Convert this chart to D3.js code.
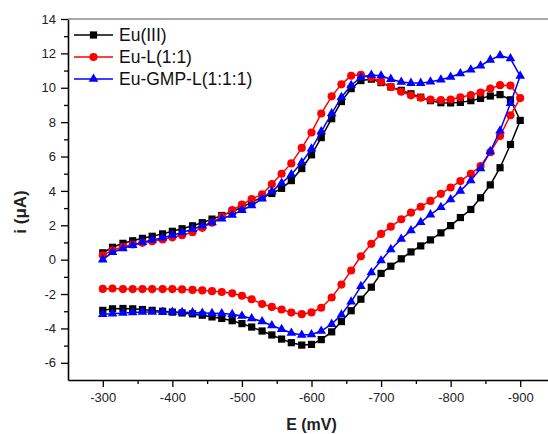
<!DOCTYPE html>
<html>
<head>
<meta charset="utf-8">
<script src="https://cdn.jsdelivr.net/npm/d3@7"></script>
<style>
  body { margin: 0; background: #fff; }
  svg { display: block; font-family: "Liberation Sans", Arial, sans-serif; }
</style>
</head>
<body>
<div id="wrapper"></div>
<script>
// forward scan potentials (mV); the reverse scan runs back over the same values
const potential = [
  -300, -314, -329, -343, -357, -371, -386, -400, -414, -429, -443, -457, -471, -486, -500,
  -514, -529, -543, -557, -571, -586, -600, -614, -629, -643, -657, -671, -686, -700, -714,
  -729, -743, -757, -771, -786, -800, -814, -829, -843, -857, -871, -886, -900,
]

// Eu(III)
const euForward = [
  0.4, 0.72, 0.95, 1.1, 1.24, 1.36, 1.5, 1.65, 1.8, 1.97, 2.15, 2.36, 2.57, 2.8, 3.05,
  3.35, 3.62, 3.85, 4.15, 4.6, 5.3, 6.1, 7.1, 8.2, 9.2, 9.95, 10.42, 10.5, 10.3, 10.05,
  9.85, 9.65, 9.45, 9.25, 9.13, 9.12, 9.15, 9.25, 9.38, 9.52, 9.6, 9.3, 8.1,
]
const euReverse = [
  6.7, 5.35, 4.35, 3.6, 2.92, 2.45, 1.98, 1.56, 1.15, 0.8, 0.45, 0.05, -0.38, -0.8,
  -1.6, -2.3, -2.97, -3.6, -4.2, -4.65, -4.93, -4.97, -4.83, -4.62, -4.38, -4.15, -3.92, -3.72,
  -3.55, -3.42, -3.33, -3.23, -3.15, -3.1, -3.05, -3.0, -2.95, -2.9, -2.86, -2.84, -2.86, -2.95,
]

// Eu-L(1:1)
const euLForward = [
  0.25, 0.55, 0.75, 0.88, 0.98, 1.07, 1.18, 1.3, 1.42, 1.6, 1.85, 2.15, 2.5, 2.88, 3.2,
  3.53, 3.8, 4.4, 5.0, 5.6, 6.5, 7.4, 8.5, 9.5, 10.2, 10.7, 10.75, 10.6, 10.35, 10.05,
  9.77, 9.56, 9.42, 9.31, 9.28, 9.32, 9.45, 9.58, 9.72, 9.95, 10.15, 10.13, 9.4,
]
const euLReverse = [
  8.4, 7.2, 6.25, 5.45, 5.0, 4.57, 4.2, 3.83, 3.42, 3.08, 2.74, 2.35, 1.92, 1.5,
  0.92, 0.2, -0.63, -1.45, -2.2, -2.8, -3.07, -3.17, -3.08, -2.9, -2.75, -2.58, -2.3, -2.1,
  -1.96, -1.88, -1.83, -1.79, -1.76, -1.73, -1.71, -1.71, -1.71, -1.71, -1.71, -1.71, -1.68, -1.7,
]

// Eu-GMP-L(1:1:1)
const euGmpForward = [
  0.0, 0.43, 0.65, 0.84, 1.02, 1.15, 1.28, 1.42, 1.58, 1.77, 1.97, 2.17, 2.38, 2.6, 2.88,
  3.15, 3.55, 3.97, 4.45, 4.95, 5.65, 6.45, 7.45, 8.5, 9.45, 10.15, 10.6, 10.74, 10.7, 10.5,
  10.33, 10.27, 10.27, 10.35, 10.47, 10.63, 10.83, 11.05, 11.28, 11.62, 11.88, 11.7, 10.68,
]
const euGmpReverse = [
  9.1, 7.5, 6.3, 5.3, 4.6, 4.0, 3.5, 3.05, 2.62, 2.18, 1.7, 1.2, 0.6, -0.05,
  -0.75, -1.55, -2.45, -3.2, -3.75, -4.15, -4.35, -4.38, -4.27, -4.05, -3.83, -3.6, -3.42, -3.28,
  -3.18, -3.13, -3.12, -3.1, -3.08, -3.06, -3.05, -3.05, -3.05, -3.05, -3.07, -3.1, -3.14, -3.18,
]

const seriesNames = ["Eu(III)", "Eu-L(1:1)", "Eu-GMP-L(1:1:1)"]
const seriesColors = ["#000000", "#ff0000", "#0000ff"]

const xTicks = [-300, -400, -500, -600, -700, -800, -900]
const xMinorTicks = [-350, -450, -550, -650, -750, -850]
const yTicks = [-6, -4, -2, 0, 2, 4, 6, 8, 10, 12, 14]
const yMinorTicks = [-5, -3, -1, 1, 3, 5, 7, 9, 11, 13]

const drawChart = () => {
  // 1) Accessors
  const xAccessor = (d) => d.e
  const yAccessor = (d) => d.i

  const reversePotential = potential.slice(0, -1).reverse()
  const buildLoop = (forward, reverse) => [
    ...potential.map((e, idx) => ({ e, i: forward[idx] })),
    ...reversePotential.map((e, idx) => ({ e, i: reverse[idx] })),
  ]

  const series = [
    { name: seriesNames[0], color: seriesColors[0], symbol: d3.symbolSquare, size: 52, values: buildLoop(euForward, euReverse) },
    { name: seriesNames[1], color: seriesColors[1], symbol: d3.symbolCircle, size: 52, values: buildLoop(euLForward, euLReverse) },
    { name: seriesNames[2], color: seriesColors[2], symbol: d3.symbolTriangle, size: 40, values: buildLoop(euGmpForward, euGmpReverse) },
  ]

  // 2) Dimensions
  const dimensions = {
    width: 548,
    height: 434,
    margin: { top: 19, right: -7, bottom: 54, left: 68 },
  }
  dimensions.boundedWidth =
    dimensions.width - dimensions.margin.left - dimensions.margin.right
  dimensions.boundedHeight =
    dimensions.height - dimensions.margin.top - dimensions.margin.bottom

  // 3) Canvas
  const wrapper = d3
    .select("#wrapper")
    .append("svg")
    .attr("width", dimensions.width)
    .attr("height", dimensions.height)

  const bounds = wrapper
    .append("g")
    .attr("transform", `translate(${dimensions.margin.left}, ${dimensions.margin.top})`)

  // 4) Scales
  const xScale = d3
    .scaleLinear()
    .domain([-250, -950])
    .range([0, dimensions.boundedWidth])

  const yScale = d3
    .scaleLinear()
    .domain([-7, 14])
    .range([dimensions.boundedHeight, 0])

  // 5) Data
  const lineGenerator = d3
    .line()
    .x((d) => xScale(xAccessor(d)))
    .y((d) => yScale(yAccessor(d)))

  series.forEach((s) => {
    const group = bounds.append("g")
    group
      .append("path")
      .attr("d", lineGenerator(s.values))
      .attr("fill", "none")
      .attr("stroke", s.color)
      .attr("stroke-width", 1.5)

    const symbol = d3.symbol(s.symbol, s.size)
    group
      .selectAll("path.marker")
      .data(s.values)
      .join("path")
      .attr("class", "marker")
      .attr("d", symbol)
      .attr("fill", s.color)
      .attr(
        "transform",
        (d) => `translate(${xScale(xAccessor(d))}, ${yScale(yAccessor(d))})`
      )
  })

  // 6) Peripherals
  const plainNumber = (d) => String(d)

  bounds
    .append("g")
    .attr("transform", `translate(0, ${dimensions.boundedHeight})`)
    .call(
      d3.axisBottom(xScale).tickValues(xTicks).tickSize(7).tickSizeOuter(0).tickPadding(6).tickFormat(plainNumber)
    )
  bounds
    .append("g")
    .attr("transform", `translate(0, ${dimensions.boundedHeight})`)
    .call(
      d3.axisBottom(xScale).tickValues(xMinorTicks).tickSize(4).tickSizeOuter(0).tickFormat("")
    )
    .select(".domain")
    .remove()

  bounds
    .append("g")
    .call(
      d3.axisLeft(yScale).tickValues(yTicks).tickSize(7).tickSizeOuter(0).tickPadding(5).tickFormat(plainNumber)
    )
  bounds
    .append("g")
    .call(
      d3.axisLeft(yScale).tickValues(yMinorTicks).tickSize(4).tickSizeOuter(0).tickFormat("")
    )
    .select(".domain")
    .remove()

  bounds.selectAll(".domain").attr("stroke", "#000").attr("stroke-width", 1.6)
  bounds.selectAll(".tick line").attr("stroke", "#000").attr("stroke-width", 1.3)
  bounds
    .selectAll(".tick text")
    .attr("fill", "#222")
    .style("font-size", "13px")
    .style("font-family", '"Liberation Sans", Arial, sans-serif')

  // top frame
  bounds
    .append("line")
    .attr("x1", 0)
    .attr("x2", dimensions.boundedWidth)
    .attr("y1", 0)
    .attr("y2", 0)
    .attr("stroke", "#555")
    .attr("stroke-width", 1.2)

  wrapper
    .append("text")
    .attr("x", dimensions.margin.left + dimensions.boundedWidth / 2)
    .attr("y", 430)
    .attr("text-anchor", "middle")
    .style("font-size", "16px")
    .style("font-weight", "bold")
    .attr("fill", "#222")
    .text("E (mV)")

  wrapper
    .append("text")
    .attr("transform", "translate(26, 212) rotate(-90)")
    .attr("text-anchor", "middle")
    .style("font-size", "17px")
    .style("font-weight", "bold")
    .attr("fill", "#222")
    .text("i (μA)")

  // legend
  const legend = wrapper.append("g")
  series.forEach((s, index) => {
    const y = 35 + index * 22
    legend
      .append("line")
      .attr("x1", 74)
      .attr("x2", 113)
      .attr("y1", y)
      .attr("y2", y)
      .attr("stroke", s.color)
      .attr("stroke-width", 1.5)
    legend
      .append("path")
      .attr("d", d3.symbol(s.symbol, s.size)())
      .attr("fill", s.color)
      .attr("transform", `translate(93.5, ${y})`)
    legend
      .append("text")
      .attr("x", 119)
      .attr("y", y + 6)
      .style("font-size", "17.5px")
      .attr("fill", "#111")
      .text(s.name)
  })
}

drawChart()
</script>
</body>
</html>
